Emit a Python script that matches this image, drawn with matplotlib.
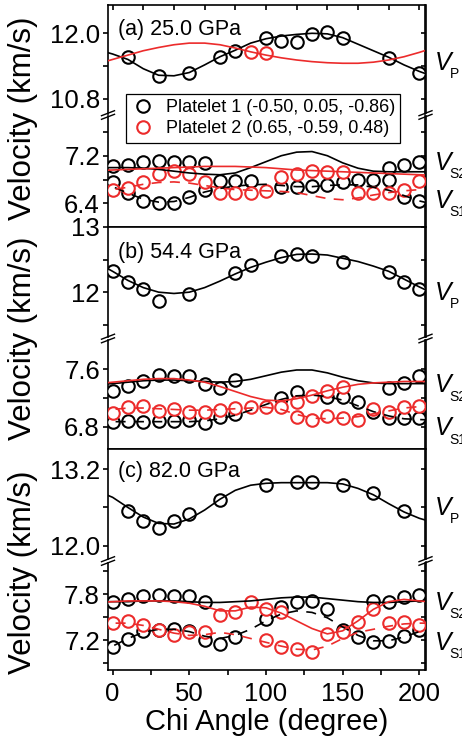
import numpy as np
import matplotlib
matplotlib.use("Agg")
import matplotlib.pyplot as plt
from matplotlib.lines import Line2D

plt.rcParams["font.family"] = ["Liberation Sans", "DejaVu Sans"]

RED = "#ec2b2b"

# angular grid of the calculated (Christoffel) curves, deg
fit_chi = np.arange(-10, 211, 10)

# ---------------- (a) 25.0 GPa ----------------
a_p1_vp_chi = [10, 30, 50, 70, 80, 100, 110, 120, 130, 140, 150, 180, 200]
a_p1_vp = [11.57, 11.22, 11.28, 11.57, 11.68, 11.91, 11.86, 11.84, 11.98, 12.03, 11.91, 11.54, 11.28]
a_p2_vp_chi = [90, 100]
a_p2_vp = [11.65, 11.63]

a_p1_vs2_chi = [0, 10, 20, 30, 40, 50, 60, 180, 190, 200]
a_p1_vs2 = [7.02, 7.04, 7.09, 7.11, 7.10, 7.10, 7.07, 7.00, 7.04, 7.09]
a_p1_vs1_chi = [0, 10, 20, 30, 40, 50, 60, 70, 80, 90, 110, 120, 130, 140, 150, 160, 170, 180, 190, 200]
a_p1_vs1 = [6.76, 6.57, 6.44, 6.40, 6.41, 6.50, 6.62, 6.78, 6.78, 6.78, 6.67, 6.68, 6.69, 6.71,
            6.76, 6.80, 6.79, 6.79, 6.51, 6.44]
a_p2_vs_chi = [0, 10, 20, 30, 40, 50, 60, 70, 80, 90, 100, 110, 120, 130, 140, 150, 160, 170, 180, 190, 200]
a_p2_vs = [6.62, 6.65, 6.75, 6.90, 6.95, 6.90, 6.76, 6.58, 6.57, 6.58, 6.60, 6.85, 6.90, 6.94,
           6.93, 6.93, 6.57, 6.58, 6.58, 6.63, 6.77]

a_fit_p1_vp = [11.70, 11.62, 11.52, 11.35, 11.23, 11.22, 11.28, 11.42, 11.57, 11.69, 11.82, 11.90,
               11.95, 11.98, 12.00, 11.99, 11.92, 11.80, 11.68, 11.56, 11.42, 11.30, 11.20]
a_fit_p2_vp = [11.44, 11.52, 11.60, 11.68, 11.74, 11.79, 11.82, 11.82, 11.79, 11.73, 11.66, 11.60,
               11.55, 11.51, 11.48, 11.46, 11.45, 11.45, 11.47, 11.51, 11.57, 11.65, 11.74]
a_fit_p1_vs2 = [7.00, 7.00, 7.00, 6.99, 6.97, 6.94, 6.91, 6.89, 6.88, 6.91, 7.00, 7.10,
                7.20, 7.26, 7.27, 7.20, 7.08, 6.99, 6.94, 6.93, 6.93, 6.93, 6.93]
a_fit_p2_vs2 = [6.95, 6.96, 6.97, 6.98, 6.99, 7.00, 7.01, 7.02, 7.02, 7.02, 7.01, 7.00,
                6.98, 6.96, 6.95, 6.94, 6.93, 6.92, 6.91, 6.90, 6.89, 6.88, 6.87]
a_fit_p1_vs1 = [6.75, 6.68, 6.57, 6.47, 6.42, 6.43, 6.50, 6.59, 6.65, 6.69, 6.71, 6.72,
                6.70, 6.68, 6.68, 6.70, 6.71, 6.71, 6.67, 6.62, 6.53, 6.44, 6.38]
a_fit_p2_vs1 = [6.60, 6.63, 6.67, 6.72, 6.75, 6.76, 6.74, 6.70, 6.66, 6.63, 6.62, 6.61,
                6.60, 6.58, 6.53, 6.48, 6.46, 6.49, 6.54, 6.58, 6.61, 6.63, 6.64]

# ---------------- (b) 54.4 GPa ----------------
b_p1_vp_chi = [0, 10, 20, 30, 50, 80, 90, 110, 120, 130, 150, 180, 190, 200]
b_p1_vp = [12.32, 12.15, 12.05, 11.87, 11.97, 12.30, 12.41, 12.56, 12.59, 12.55, 12.46, 12.31, 12.15, 12.05]

b_p1_vs2_chi = [0, 10, 20, 30, 40, 50, 60, 70, 80, 180, 190, 200]
b_p1_vs2 = [7.30, 7.37, 7.43, 7.52, 7.50, 7.51, 7.39, 7.335, 7.45, 7.34, 7.41, 7.50]
b_p1_vs1_chi = [0, 10, 20, 30, 40, 50, 60, 70, 80, 110, 120, 140, 150, 160, 170, 180, 190, 200]
b_p1_vs1 = [6.86, 6.88, 6.87, 6.88, 6.88, 6.90, 6.85, 6.93, 6.97, 7.20, 7.28, 7.21, 7.21, 7.14,
            7.00, 6.92, 6.92, 6.92]
b_p2_vs2_chi = [120, 130, 140, 150]
b_p2_vs2 = [7.14, 7.23, 7.30, 7.35]
b_p2_vs1_chi = [0, 10, 20, 30, 40, 50, 60, 70, 80, 90, 100, 110, 120, 130, 140, 150, 160,
                170, 180, 190, 200]
b_p2_vs1 = [6.99, 7.08, 7.09, 7.02, 7.04, 7.01, 7.00, 7.03, 7.06, 7.07, 7.08, 7.08, 6.93, 6.90,
            6.95, 6.92, 6.90, 7.04, 7.00, 7.08, 7.09]

b_fit_p1_vp = [12.45, 12.32, 12.18, 12.07, 12.00, 11.98, 12.00, 12.07, 12.17, 12.28, 12.38, 12.46,
               12.53, 12.58, 12.585, 12.57, 12.52, 12.47, 12.40, 12.32, 12.20, 12.08, 11.97]
b_fit_p1_vs2 = [7.39, 7.40, 7.42, 7.44, 7.45, 7.45, 7.44, 7.43, 7.42, 7.43, 7.46, 7.51,
                7.56, 7.59, 7.59, 7.55, 7.49, 7.44, 7.41, 7.40, 7.40, 7.40, 7.40]
b_fit_p2_vs2 = [7.40, 7.42, 7.44, 7.46, 7.47, 7.47, 7.45, 7.42, 7.36, 7.29, 7.22, 7.17,
                7.16, 7.19, 7.24, 7.30, 7.35, 7.39, 7.41, 7.42, 7.43, 7.43, 7.43]
b_fit_p1_vs1 = [6.87, 6.87, 6.87, 6.87, 6.87, 6.87, 6.87, 6.88, 6.91, 6.96, 7.03, 7.11,
                7.18, 7.23, 7.24, 7.22, 7.17, 7.09, 7.01, 6.95, 6.91, 6.90, 6.89]
b_fit_p2_vs1 = [7.03, 7.04, 7.06, 7.06, 7.05, 7.04, 7.03, 7.03, 7.04, 7.05, 7.06, 7.07,
                7.04, 6.97, 6.92, 6.91, 6.92, 6.94, 6.98, 7.02, 7.06, 7.08, 7.09]

# ---------------- (c) 82.0 GPa ----------------
c_p1_vp_chi = [10, 20, 30, 40, 50, 70, 100, 120, 130, 150, 170, 190]
c_p1_vp = [12.545, 12.38, 12.28, 12.38, 12.49, 12.72, 12.95, 13.00, 13.00, 12.95, 12.82, 12.545]

c_p1_vs2_chi = [0, 10, 20, 30, 40, 50, 60, 100, 110, 120, 130, 140, 170, 180, 190, 200]
c_p1_vs2 = [7.69, 7.74, 7.77, 7.79, 7.77, 7.77, 7.70, 7.47, 7.63, 7.70, 7.71, 7.60, 7.71, 7.70, 7.76, 7.79]
c_p1_vs1_chi = [0, 10, 20, 30, 40, 50, 60, 70, 80, 150, 160, 170, 180, 190, 200]
c_p1_vs1 = [7.11, 7.21, 7.32, 7.33, 7.35, 7.32, 7.20, 7.15, 7.235, 7.33, 7.235, 7.18, 7.19, 7.25, 7.33]
c_p2_vs2_chi = [70, 80, 90, 100, 110, 160, 170]
c_p2_vs2 = [7.53, 7.57, 7.69, 7.61, 7.56, 7.44, 7.61]
c_p2_vs1_chi = [0, 10, 20, 30, 40, 50, 60, 100, 110, 120, 130, 140, 150, 180, 190, 200]
c_p2_vs1 = [7.42, 7.45, 7.40, 7.33, 7.27, 7.31, 7.31, 7.20, 7.11, 7.08, 7.05, 7.28, 7.30, 7.42, 7.44, 7.40]

c_fit_p1_vp = [12.86, 12.76, 12.60, 12.45, 12.35, 12.34, 12.42, 12.56, 12.73, 12.87, 12.95, 12.98,
               12.99, 12.99, 12.99, 12.99, 12.97, 12.90, 12.80, 12.66, 12.53, 12.43, 12.36]
c_fit_p1_vs2 = [7.70, 7.70, 7.70, 7.71, 7.71, 7.71, 7.70, 7.69, 7.69, 7.70, 7.71, 7.73,
                7.75, 7.76, 7.76, 7.74, 7.72, 7.70, 7.69, 7.69, 7.70, 7.71, 7.71]
c_fit_p2_vs2 = [7.69, 7.70, 7.71, 7.71, 7.71, 7.70, 7.68, 7.64, 7.58, 7.58, 7.63, 7.62,
                7.55, 7.45, 7.35, 7.28, 7.32, 7.45, 7.60, 7.70, 7.73, 7.71, 7.69]
c_fit_p1_vs1 = [7.04, 7.12, 7.22, 7.30, 7.34, 7.34, 7.31, 7.25, 7.22, 7.26, 7.34, 7.45,
                7.54, 7.58, 7.56, 7.49, 7.37, 7.26, 7.19, 7.19, 7.24, 7.31, 7.38]
c_fit_p2_vs1 = [7.42, 7.42, 7.42, 7.39, 7.34, 7.29, 7.26, 7.27, 7.30, 7.27, 7.22, 7.17,
                7.12, 7.08, 7.07, 7.12, 7.22, 7.30, 7.34, 7.38, 7.41, 7.42, 7.42]

# ---------------- layout (pixels) ----------------
W, H = 462, 744
X0, X1 = 108, 425.5
GAP = 3.0
SPINE_W = 1.2
TICK_LEN = 3.8
TICK_FS = 18.5
MS = 9

fig = plt.figure(figsize=(W / 100, H / 100), dpi=100)


def add_ax(top, bottom):
    return fig.add_axes([X0 / W, 1 - bottom / H, (X1 - X0) / W, (bottom - top) / H])


def style_y(ax, ticks, labels):
    ax.set_yticks(ticks)
    ax.set_yticklabels(labels)
    ax.tick_params(axis="y", which="both", direction="out", length=TICK_LEN, width=SPINE_W,
                   labelsize=TICK_FS, pad=2, right=False)
    # right side ticks point inward
    sec = ax.secondary_yaxis("right")
    sec.set_yticks(ticks)
    sec.set_yticklabels([])
    sec.tick_params(axis="y", direction="in", length=TICK_LEN, width=SPINE_W)
    sec.spines["right"].set_linewidth(SPINE_W)
    for s in ax.spines.values():
        s.set_linewidth(SPINE_W)


def points(ax, chi, v, color):
    ax.plot(chi, v, ls="none", marker="o", ms=MS, mfc="white", mec=color, mew=1.5, zorder=3)


def curve(ax, v, color, dashed=False):
    ax.plot(fit_chi, v, color=color, lw=1.2, ls=(0, (6, 5)) if dashed else "-", zorder=4)


def v_label(ax, y, sub):
    tr = ax.get_yaxis_transform()
    ax.annotate("V", xy=(1, y), xycoords=tr, xytext=(6.5, 0), textcoords="offset points",
                fontsize=18, style="italic", ha="left", va="baseline", annotation_clip=False)
    ax.annotate(sub, xy=(1, y), xycoords=tr, xytext=(17.5, -6), textcoords="offset points",
                fontsize=10, ha="left", va="baseline", annotation_clip=False)


def break_marks(y_px):
    for x in (X0, X1):
        for dy in (-1.8, 1.8):
            xs = [x - 6.5, x + 6.5]
            ys = [y_px + dy + 2.5, y_px + dy - 2.5]
            fig.add_artist(Line2D([p / W for p in xs], [1 - p / H for p in ys],
                                  color="k", lw=1.0, transform=fig.transFigure))


panels = [
    dict(tag="(a) 25.0 GPa", rows=(4.7, 115, 227), tag_y=0.72,
         ylim_top=(10.528, 12.525), yt_top=([12.0, 11.4, 10.8], ["12.0", "", "10.8"]),
         ylim_bot=(6.002, 7.859), yt_bot=([7.6, 7.2, 6.8, 6.4], ["", "7.2", "", "6.4"]),
         xmajor=20,
         top_pts=[(a_p1_vp_chi, a_p1_vp, "k"), (a_p2_vp_chi, a_p2_vp, RED)],
         top_fits=[(a_fit_p1_vp, "k", False), (a_fit_p2_vp, RED, False)],
         bot_pts=[(a_p1_vs2_chi, a_p1_vs2, "k"), (a_p1_vs1_chi, a_p1_vs1, "k"),
                  (a_p2_vs_chi, a_p2_vs, RED)],
         bot_fits=[(a_fit_p1_vs2, "k", False), (a_fit_p1_vs1, "k", True),
                   (a_fit_p2_vs2, RED, False), (a_fit_p2_vs1, RED, True)],
         vlab=(11.33, 6.96, 6.32)),
    dict(tag="(b) 54.4 GPa", rows=(227, 338.5, 449), tag_y=0.72,
         ylim_top=(11.312, 13.0), yt_top=([13, 12.5, 12, 11.5], ["13", "", "12", ""]),
         ylim_bot=(6.489, 8.008), yt_bot=([7.6, 7.2, 6.8], ["7.6", "", "6.8"]),
         xmajor=50,
         top_pts=[(b_p1_vp_chi, b_p1_vp, "k")],
         top_fits=[(b_fit_p1_vp, "k", False)],
         bot_pts=[(b_p1_vs2_chi, b_p1_vs2, "k"), (b_p1_vs1_chi, b_p1_vs1, "k"),
                  (b_p2_vs2_chi, b_p2_vs2, RED), (b_p2_vs1_chi, b_p2_vs1, RED)],
         bot_fits=[(b_fit_p1_vs2, "k", False), (b_fit_p1_vs1, "k", True),
                   (b_fit_p2_vs2, RED, False), (b_fit_p2_vs1, RED, True)],
         vlab=(11.88, 7.28, 6.68)),
    dict(tag="(c) 82.0 GPa", rows=(449, 561, 670), tag_y=0.745,
         ylim_top=(11.783, 13.519), yt_top=([13.2, 12.6, 12.0], ["13.2", "", "12.0"]),
         ylim_bot=(6.809, 8.211), yt_bot=([8.1, 7.8, 7.5, 7.2, 6.9], ["", "7.8", "", "7.2", ""]),
         xmajor=50,
         top_pts=[(c_p1_vp_chi, c_p1_vp, "k")],
         top_fits=[(c_fit_p1_vp, "k", False)],
         bot_pts=[(c_p1_vs2_chi, c_p1_vs2, "k"), (c_p1_vs1_chi, c_p1_vs1, "k"),
                  (c_p2_vs2_chi, c_p2_vs2, RED), (c_p2_vs1_chi, c_p2_vs1, RED)],
         bot_fits=[(c_fit_p1_vs2, "k", False), (c_fit_p1_vs1, "k", True),
                   (c_fit_p2_vs2, RED, False), (c_fit_p2_vs1, RED, True)],
         vlab=(12.48, 7.59, 7.07)),
]

ylabel_centers = [118, 338, 572]

for i, p in enumerate(panels):
    top, brk, bot = p["rows"]
    ax_t = add_ax(top, brk - GAP / 2)
    ax_b = add_ax(brk + GAP / 2, bot)

    for ax in (ax_t, ax_b):
        ax.set_xlim(-3, 204)
        ax.set_xticks(np.arange(0, 201, p["xmajor"]))
        if p["xmajor"] == 50:
            ax.set_xticks(np.arange(25, 200, 50), minor=True)
    ax_t.set_ylim(*p["ylim_top"])
    ax_b.set_ylim(*p["ylim_bot"])
    style_y(ax_t, *p["yt_top"])
    style_y(ax_b, *p["yt_bot"])

    ax_t.spines["bottom"].set_visible(False)
    ax_b.spines["top"].set_visible(False)
    ax_t.tick_params(axis="x", which="both", bottom=False, labelbottom=False,
                     top=(i == 0), direction="in", length=TICK_LEN, width=SPINE_W)
    ax_b.tick_params(axis="x", which="both", bottom=True, top=False, direction="out",
                     length=TICK_LEN, width=SPINE_W, labelsize=TICK_FS, pad=5,
                     labelbottom=(i == 2))

    for chi, v, c in p["top_pts"]:
        points(ax_t, chi, v, c)
    for v, c, d in p["top_fits"]:
        curve(ax_t, v, c, d)
    for chi, v, c in p["bot_pts"]:
        points(ax_b, chi, v, c)
    for v, c, d in p["bot_fits"]:
        curve(ax_b, v, c, d)

    ax_t.text(0.031, p["tag_y"], p["tag"], transform=ax_t.transAxes, fontsize=15.5,
              ha="left", va="baseline")

    v_label(ax_t, p["vlab"][0], "P")
    v_label(ax_b, p["vlab"][1], "S2")
    v_label(ax_b, p["vlab"][2], "S1")

    break_marks(brk)

    fig.text(23 / W, 1 - ylabel_centers[i] / H, "Velocity (km/s)", rotation=90,
             fontsize=22.5, ha="center", va="center")

fig.text((X0 + X1) / 2 / W, 1 - 722 / H, "Chi Angle (degree)", fontsize=21,
         ha="center", va="center")

handles = [
    Line2D([], [], ls="none", marker="o", ms=MS, mfc="white", mec="k", mew=1.5,
           label="Platelet 1 (-0.50, 0.05, -0.86)"),
    Line2D([], [], ls="none", marker="o", ms=MS, mfc="white", mec=RED, mew=1.5,
           label="Platelet 2 (0.65, -0.59, 0.48)"),
]
leg = fig.legend(handles=handles, loc="upper left", bbox_to_anchor=(126 / W, 1 - 94 / H),
                 bbox_transform=fig.transFigure, frameon=True, fancybox=False,
                 edgecolor="k", framealpha=1, fontsize=13, borderpad=0.3,
                 labelspacing=0.22, handlelength=1.3, handletextpad=0.6, borderaxespad=0)
leg.get_frame().set_linewidth(0.9)

fig.savefig("out.png", dpi=100)
